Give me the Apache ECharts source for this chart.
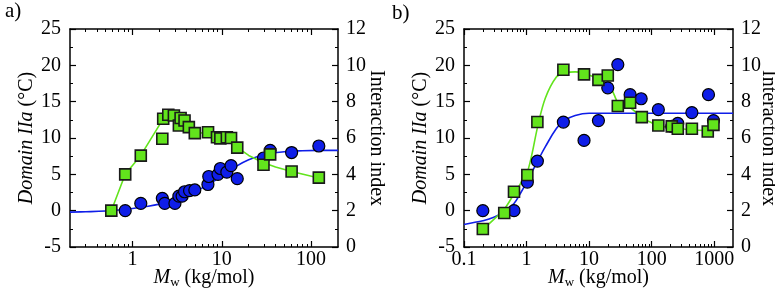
<!DOCTYPE html>
<html>
<head>
<meta charset="utf-8">
<script src="https://cdn.jsdelivr.net/npm/echarts@6/dist/echarts.min.js"></script>
<style>html,body{margin:0;padding:0;background:#fff}#main{width:775px;height:292px}</style>
</head>
<body>
<div id="main"></div>
<script>
var FONT = "'Liberation Serif', 'Times New Roman', serif";
var BLUE = '#0f1ee8';
var GREEN = '#62e41c';

// ---- panel a) ----
var aDotMw = [0.83, 1.24, 2.16, 2.3, 2.99, 3.31, 3.6, 3.83, 4.36, 4.99, 7.0, 7.15, 9.07, 9.64, 11.4, 12.7, 14.9, 29.3, 34.8, 60.5, 122];
var aDotT  = [0.0, 1.0, 1.7, 1.0, 1.0, 2.0, 2.0, 2.6, 2.75, 2.85, 3.6, 4.7, 5.0, 5.8, 5.3, 6.2, 4.4, 7.25, 8.3, 8.0, 8.9];
var aSqMw  = [0.58, 0.83, 1.24, 2.16, 2.21, 2.52, 2.91, 3.31, 3.46, 3.83, 4.28, 4.99, 7.02, 8.84, 9.64, 11.4, 12.7, 14.9, 29.3, 34.8, 60.5, 122];
var aSqIdx = [2.0, 4.0, 5.03, 5.96, 7.06, 7.28, 7.24, 6.69, 7.1, 6.96, 6.6, 6.27, 6.32, 6.04, 5.98, 6.04, 6.0, 5.47, 4.53, 5.1, 4.16, 3.82];
var aFitMw = [0.2, 0.3, 0.5, 0.7, 1, 1.5, 2, 3, 4, 6, 8, 10, 14, 20, 30, 50, 80, 120, 200];
var aFitT  = [-0.2, -0.15, -0.05, 0.1, 0.3, 0.6, 0.9, 1.5, 2.1, 3.1, 4.0, 4.8, 6.0, 7.0, 7.7, 8.1, 8.25, 8.3, 8.3];
var aLineMw  = [0.58, 0.83, 1.24, 2.2, 2.5, 2.9, 3.5, 4.3, 5.0, 7.0, 9.6, 12.7, 14.9, 20, 29.3, 40, 60.5, 122];
var aLineIdx = [2.0, 4.0, 5.04, 7.04, 7.28, 7.24, 7.0, 6.56, 6.32, 6.24, 6.08, 6.0, 5.48, 5.04, 4.64, 4.4, 4.16, 3.8];
var aRange = [0.2, 200];
var aTicks = [1, 10, 100];

// ---- panel b) ----
var bDotMw = [0.2, 0.63, 1.03, 1.49, 3.88, 8.3, 14.1, 19.9, 28.8, 45.3, 68, 128, 210, 262, 440, 811, 975];
var bDotT  = [0.0, 0.0, 3.93, 6.82, 12.19, 9.67, 12.4, 16.9, 20.1, 15.96, 15.4, 13.9, 11.6, 12.0, 13.5, 15.96, 12.4];
var bSqMw  = [0.2, 0.44, 0.63, 1.03, 1.49, 3.88, 8.3, 14.1, 19.9, 28.8, 45.3, 69.7, 128, 210, 262, 440, 790, 975];
var bSqIdx = [0.99, 1.87, 3.04, 3.96, 6.88, 9.76, 9.5, 9.2, 9.44, 7.76, 7.94, 7.15, 6.69, 6.64, 6.51, 6.51, 6.36, 6.72];
var bFitMw = [0.1, 0.15, 0.2, 0.3, 0.45, 0.63, 0.8, 1.0, 1.5, 2, 3, 4, 6, 10, 30, 2000];
var bFitT  = [-1.9, -1.6, -1.4, -0.9, -0.1, 1.0, 2.4, 3.9, 6.8, 8.8, 11.3, 12.4, 13.1, 13.4, 13.4, 13.4];
var bLineMw  = [0.2, 0.3, 0.44, 0.63, 0.8, 1.0, 1.2, 1.5, 2, 3, 4, 6, 8.3, 14, 20, 25, 30, 45, 70, 100, 130, 250, 500, 790, 975];
var bLineIdx = [0.96, 1.52, 2.08, 2.92, 3.48, 4.0, 5.0, 6.6, 8.2, 9.36, 9.56, 9.64, 9.56, 9.28, 9.12, 8.4, 7.88, 7.68, 7.12, 6.84, 6.68, 6.52, 6.44, 6.4, 6.72];
var bRange = [0.1, 2000];
var bTicks = [0.1, 1, 10, 100, 1000];

var lg = function (v) { return Math.log10(v); };
var pairs = function (xs, ys) { return xs.map(function (x, i) { return [lg(x), ys[i]]; }); };

function minorTicks(r) {
    var out = [];
    for (var k = -2; k <= 4; k++)
        for (var m = 2; m <= 9; m++) {
            var v = m * Math.pow(10, k);
            if (v > r[0] * 1.0001 && v < r[1] * 0.9999) out.push(lg(v));
        }
    return out;
}

var txt = { fontFamily: FONT, fontSize: 20, color: '#000' };
var line = { show: true, onZero: false, lineStyle: { color: '#000', width: 1.5 } };

function xAxes(grid, mainGrid, r, ticks) {
    var lo = lg(r[0]), hi = lg(r[1]);
    var major = ticks.map(lg), minor = minorTicks(r);
    var base = { type: 'value', min: lo, max: hi, splitLine: { show: false } };
    return [
        Object.assign({}, base, {
            gridIndex: mainGrid, position: 'bottom', axisLine: line,
            axisTick: { inside: true, length: 6, customValues: major, lineStyle: { color: '#000', width: 1.2 } },
            axisLabel: Object.assign({ customValues: major, margin: 3, formatter: function (v) {
                var n = Math.pow(10, v);
                return n < 1 ? n.toFixed(1) : String(Math.round(n));
            } }, txt),
            name: '{m|M}{s|w} (kg/mol)', nameLocation: 'middle', nameGap: 19, nameMoveOverlap: false,
            nameTextStyle: Object.assign({ rich: {
                m: { fontFamily: FONT, fontSize: 20, fontStyle: 'italic', color: '#000' },
                s: { fontFamily: FONT, fontSize: 13, color: '#000', padding: [10, 0, 0, 0] }
            } }, txt)
        }),
        Object.assign({}, base, {
            gridIndex: mainGrid, position: 'top', axisLine: line,
            axisTick: { inside: true, length: 6, customValues: major, lineStyle: { color: '#000', width: 1.2 } },
            axisLabel: { show: false }
        }),
        Object.assign({}, base, {
            gridIndex: grid, position: 'bottom', axisLine: { show: false, onZero: false },
            axisTick: { inside: true, length: 3, customValues: minor, lineStyle: { color: '#000', width: 1 } },
            axisLabel: { show: false }
        }),
        Object.assign({}, base, {
            gridIndex: grid, position: 'top', axisLine: { show: false, onZero: false },
            axisTick: { inside: true, length: 3, customValues: minor, lineStyle: { color: '#000', width: 1 } },
            axisLabel: { show: false }
        })
    ];
}

function yAxes(mainGrid, grid, leftGap, rightGap) {
    return [
        {
            gridIndex: mainGrid, type: 'value', position: 'left', min: -5, max: 25, interval: 5,
            axisLine: line, splitLine: { show: false },
            axisTick: { inside: true, length: 6, lineStyle: { color: '#000', width: 1.2 } },
            minorTick: { show: true, splitNumber: 2, length: 3, lineStyle: { color: '#000', width: 1 } },
            axisLabel: Object.assign({ margin: 9 }, txt),
            name: '{i|Domain IIa} (°C)', nameLocation: 'middle', nameRotate: 90, nameGap: leftGap,
            nameMoveOverlap: false,
            nameTextStyle: Object.assign({ rich: {
                i: { fontFamily: FONT, fontSize: 20, fontStyle: 'italic', color: '#000' }
            } }, txt)
        },
        {
            gridIndex: mainGrid, type: 'value', position: 'right', min: 0, max: 12, interval: 2,
            axisLine: line, splitLine: { show: false },
            axisTick: { inside: true, length: 6, lineStyle: { color: '#000', width: 1.2 } },
            minorTick: { show: true, splitNumber: 2, length: 3, lineStyle: { color: '#000', width: 1 } },
            axisLabel: Object.assign({ margin: 8 }, txt),
            name: 'Interaction index', nameLocation: 'middle', nameRotate: -90, nameGap: rightGap,
            nameMoveOverlap: false,
            nameTextStyle: txt
        },
        { gridIndex: grid, type: 'value', min: -5, max: 25, show: false }
    ];
}

function panel(xi, yi, fitMw, fitT, lineMw, lineIdx, dotMw, dotT, sqMw, sqIdx, smoothGreen) {
    return [
        { type: 'line', xAxisIndex: xi, yAxisIndex: yi, data: pairs(fitMw, fitT), smooth: 0.4,
          symbol: 'none', lineStyle: { color: BLUE, width: 1.6 }, z: 2 },
        { type: 'line', xAxisIndex: xi, yAxisIndex: yi + 1, data: pairs(lineMw, lineIdx), smooth: smoothGreen,
          symbol: 'none', lineStyle: { color: GREEN, width: 1.6 }, z: 2 },
        { type: 'scatter', xAxisIndex: xi, yAxisIndex: yi, data: pairs(dotMw, dotT), symbol: 'circle',
          symbolSize: 12, itemStyle: { color: BLUE, borderColor: '#000', borderWidth: 1.2, opacity: 1 }, z: 3 },
        { type: 'scatter', xAxisIndex: xi, yAxisIndex: yi + 1, data: pairs(sqMw, sqIdx), symbol: 'rect',
          symbolSize: 11, itemStyle: { color: GREEN, borderColor: '#1a1a1a', borderWidth: 1.6, opacity: 1 }, z: 4 }
    ];
}

var myChart = echarts.init(document.getElementById('main'));

var gridA = { left: 70, right: 437, top: 29, bottom: 45, outerBoundsMode: 'none' };
var gridB = { left: 464, right: 42, top: 29, bottom: 45, outerBoundsMode: 'none' };

var option = {
    animation: false,
    title: [
        { text: 'a)', left: 0, top: -4, textStyle: { fontFamily: FONT, fontSize: 21, fontWeight: 'normal', color: '#000' } },
        { text: 'b)', left: 387, top: -2, textStyle: { fontFamily: FONT, fontSize: 21, fontWeight: 'normal', color: '#000' } }
    ],
    grid: [gridA, Object.assign({}, gridA), gridB, Object.assign({}, gridB)],
    xAxis: xAxes(1, 0, aRange, aTicks).concat(xAxes(3, 2, bRange, bTicks)),
    yAxis: yAxes(0, 1, 33, 28).concat(yAxes(2, 3, 33, 25)),
    series: panel(0, 0, aFitMw, aFitT, aLineMw, aLineIdx, aDotMw, aDotT, aSqMw, aSqIdx, false)
        .concat(panel(4, 3, bFitMw, bFitT, bLineMw, bLineIdx, bDotMw, bDotT, bSqMw, bSqIdx, 0.35))
};

myChart.setOption(option);
</script>
</body>
</html>
